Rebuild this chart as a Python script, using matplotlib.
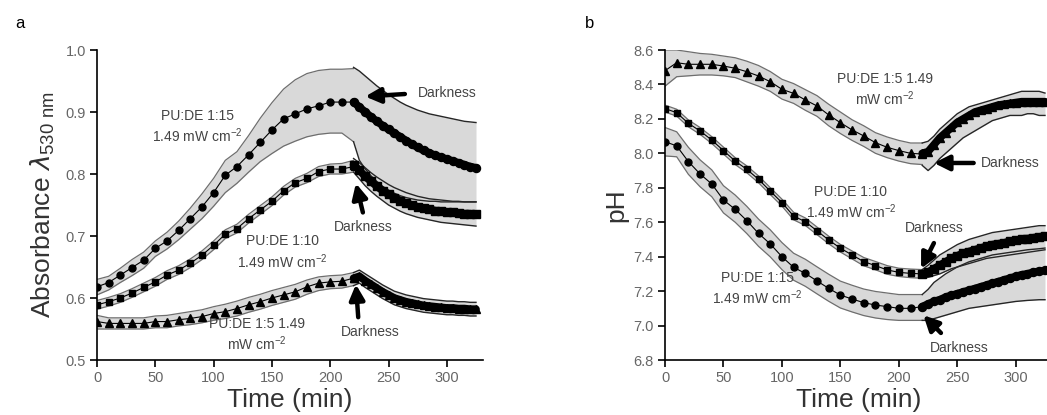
import matplotlib
matplotlib.use("Agg")
import matplotlib.pyplot as plt
import numpy as np

plt.rcParams['font.family'] = ['Liberation Sans', 'DejaVu Sans']

# ---------------- data ----------------
t_light = list(range(0, 221, 10))
t_dark = list(range(220, 326, 5))

# Panel a: absorbance at 530 nm
a15_mean = [0.618,0.625,0.637,0.649,0.661,0.680,0.692,0.709,0.728,0.747,0.770,0.798,0.812,0.831,0.851,0.871,0.889,0.897,0.905,0.910,0.916,0.916,0.916]
a15_up = [0.630,0.635,0.648,0.662,0.674,0.692,0.706,0.724,0.745,0.768,0.793,0.822,0.836,0.862,0.890,0.915,0.937,0.952,0.962,0.967,0.969,0.969,0.970]
a15_lo = [0.605,0.613,0.625,0.636,0.648,0.667,0.679,0.694,0.711,0.728,0.748,0.770,0.785,0.803,0.820,0.833,0.845,0.853,0.860,0.864,0.866,0.866,0.852]
a15_dmean = [0.916,0.908,0.900,0.892,0.885,0.878,0.872,0.866,0.860,0.854,0.848,0.843,0.838,0.834,0.830,0.827,0.824,0.821,0.818,0.815,0.812,0.810]
a15_dup = [0.972,0.966,0.958,0.950,0.942,0.935,0.928,0.922,0.916,0.911,0.907,0.903,0.900,0.897,0.895,0.893,0.891,0.889,0.887,0.885,0.884,0.883]
a15_dlo = [0.852,0.822,0.808,0.797,0.788,0.780,0.774,0.769,0.765,0.762,0.760,0.758,0.757,0.756,0.756,0.755,0.755,0.755,0.755,0.755,0.755,0.755]

a10_mean = [0.589,0.594,0.600,0.608,0.617,0.626,0.637,0.645,0.656,0.669,0.685,0.703,0.712,0.728,0.742,0.756,0.773,0.786,0.793,0.804,0.808,0.808,0.812]
a10_up = [0.596,0.601,0.607,0.615,0.624,0.633,0.644,0.652,0.663,0.676,0.692,0.710,0.719,0.735,0.749,0.763,0.780,0.793,0.801,0.812,0.816,0.817,0.822]
a10_lo = [0.582,0.587,0.593,0.601,0.610,0.619,0.630,0.638,0.649,0.662,0.678,0.696,0.705,0.721,0.735,0.749,0.766,0.779,0.786,0.796,0.800,0.800,0.803]
a10_dmean = [0.815,0.806,0.796,0.788,0.780,0.773,0.767,0.762,0.757,0.753,0.750,0.747,0.745,0.743,0.741,0.740,0.739,0.738,0.737,0.736,0.736,0.735]
a10_dup = [0.825,0.818,0.810,0.802,0.795,0.789,0.783,0.778,0.774,0.770,0.767,0.764,0.762,0.760,0.759,0.758,0.757,0.756,0.756,0.755,0.755,0.755]
a10_dlo = [0.803,0.792,0.781,0.772,0.764,0.757,0.750,0.745,0.740,0.736,0.733,0.730,0.728,0.726,0.724,0.722,0.721,0.720,0.719,0.718,0.717,0.716]

a5_mean = [0.562,0.559,0.559,0.559,0.559,0.562,0.562,0.565,0.567,0.570,0.575,0.578,0.583,0.589,0.594,0.600,0.605,0.610,0.618,0.624,0.626,0.627,0.632]
a5_up = [0.572,0.568,0.568,0.568,0.568,0.571,0.572,0.575,0.578,0.581,0.586,0.590,0.595,0.601,0.606,0.612,0.617,0.622,0.629,0.634,0.636,0.637,0.641]
a5_lo = [0.550,0.550,0.550,0.550,0.550,0.552,0.552,0.555,0.557,0.560,0.564,0.567,0.571,0.577,0.582,0.588,0.593,0.598,0.606,0.612,0.615,0.616,0.620]
a5_dmean = [0.632,0.635,0.628,0.622,0.616,0.610,0.605,0.600,0.597,0.594,0.592,0.590,0.588,0.587,0.586,0.585,0.584,0.584,0.583,0.583,0.582,0.582]
a5_dup = [0.641,0.645,0.639,0.633,0.627,0.621,0.616,0.611,0.608,0.605,0.603,0.601,0.599,0.598,0.597,0.596,0.595,0.595,0.594,0.594,0.593,0.593]
a5_dlo = [0.620,0.624,0.617,0.611,0.605,0.599,0.594,0.589,0.586,0.583,0.581,0.579,0.577,0.576,0.575,0.574,0.573,0.573,0.572,0.572,0.571,0.571]

# Panel b: pH
p5_mean = [8.480,8.526,8.517,8.517,8.517,8.507,8.494,8.474,8.449,8.416,8.372,8.348,8.310,8.275,8.223,8.178,8.136,8.101,8.062,8.035,8.016,8.000,7.996]
p5_up = [8.600,8.600,8.590,8.580,8.575,8.565,8.555,8.535,8.510,8.475,8.430,8.405,8.370,8.335,8.285,8.240,8.195,8.160,8.120,8.095,8.075,8.060,8.060]
p5_lo = [8.390,8.445,8.450,8.455,8.455,8.450,8.440,8.415,8.390,8.360,8.315,8.290,8.250,8.215,8.160,8.115,8.075,8.040,8.000,7.975,7.955,7.940,7.935]
p5_dmean = [8.00,8.01,8.05,8.09,8.12,8.15,8.18,8.20,8.22,8.24,8.25,8.26,8.27,8.28,8.285,8.29,8.295,8.30,8.30,8.30,8.30,8.30]
p5_dup = [8.06,8.07,8.10,8.14,8.17,8.20,8.23,8.25,8.27,8.28,8.29,8.30,8.31,8.32,8.33,8.34,8.35,8.36,8.36,8.36,8.36,8.35]
p5_dlo = [7.93,7.90,7.93,7.97,8.00,8.03,8.06,8.09,8.11,8.13,8.15,8.17,8.19,8.20,8.21,8.22,8.22,8.22,8.23,8.23,8.22,8.22]

p10_mean = [8.260,8.236,8.174,8.130,8.077,8.016,7.955,7.907,7.849,7.781,7.714,7.636,7.603,7.550,7.497,7.449,7.410,7.371,7.348,7.323,7.309,7.303,7.300]
p10_up = [8.280,8.256,8.194,8.150,8.097,8.036,7.975,7.927,7.869,7.801,7.734,7.658,7.625,7.572,7.519,7.471,7.433,7.395,7.372,7.348,7.333,7.328,7.325]
p10_lo = [8.240,8.216,8.154,8.110,8.057,7.996,7.935,7.887,7.829,7.761,7.694,7.614,7.581,7.528,7.475,7.427,7.387,7.347,7.324,7.298,7.285,7.278,7.275]
p10_dmean = [7.300,7.310,7.330,7.350,7.370,7.390,7.405,7.420,7.430,7.440,7.450,7.460,7.470,7.475,7.480,7.490,7.495,7.500,7.505,7.510,7.515,7.520]
p10_dup = [7.325,7.350,7.380,7.410,7.430,7.450,7.470,7.485,7.500,7.510,7.520,7.530,7.540,7.545,7.550,7.555,7.560,7.565,7.570,7.575,7.580,7.580]
p10_dlo = [7.275,7.280,7.290,7.300,7.315,7.330,7.340,7.350,7.360,7.370,7.380,7.390,7.395,7.400,7.405,7.410,7.415,7.420,7.425,7.430,7.435,7.440]

p15_mean = [8.068,8.043,7.952,7.880,7.822,7.729,7.675,7.609,7.535,7.474,7.400,7.338,7.303,7.259,7.216,7.177,7.154,7.133,7.119,7.110,7.100,7.100,7.110]
p15_up = [8.150,8.125,8.035,7.962,7.904,7.812,7.758,7.692,7.618,7.556,7.482,7.420,7.385,7.341,7.298,7.258,7.234,7.212,7.198,7.189,7.180,7.180,7.180]
p15_lo = [7.985,7.980,7.878,7.806,7.748,7.654,7.600,7.534,7.460,7.399,7.325,7.263,7.228,7.184,7.141,7.102,7.079,7.058,7.044,7.035,7.030,7.030,7.030]
p15_dmean = [7.110,7.125,7.140,7.150,7.165,7.175,7.185,7.195,7.205,7.215,7.225,7.235,7.245,7.255,7.265,7.275,7.285,7.295,7.300,7.310,7.315,7.320]
p15_dup = [7.180,7.210,7.250,7.275,7.300,7.320,7.340,7.355,7.370,7.380,7.390,7.400,7.410,7.415,7.420,7.425,7.430,7.435,7.440,7.443,7.446,7.450]
p15_dlo = [7.030,7.030,7.040,7.050,7.060,7.070,7.080,7.090,7.100,7.105,7.110,7.115,7.120,7.125,7.130,7.135,7.140,7.143,7.146,7.148,7.150,7.150]

# ---------------- drawing ----------------
W, H = 1047, 415
fig = plt.figure(figsize=(W / 100, H / 100), dpi=100)

FILL = '#d9d9d9'
EDGE = '#6e6e6e'
DEDGE = '#262626'
TXT = '#444444'
TICK = '#666666'


def draw_series(ax, mean, up, lo, dmean, dup, dlo, marker, ms):
    tl = np.array(t_light)
    td = np.array(t_dark)
    tt = np.concatenate([tl, td[1:]])
    uu = np.concatenate([up, dup[1:]])
    ll = np.concatenate([lo, dlo[1:]])
    ax.fill_between(tt, ll, uu, color=FILL, lw=0, zorder=1)
    ax.plot(tl, up, color=EDGE, lw=0.9, zorder=2)
    ax.plot(tl, lo, color=EDGE, lw=0.9, zorder=2)
    ax.plot(td, dup, color=DEDGE, lw=1.0, zorder=2)
    ax.plot(td, dlo, color=DEDGE, lw=1.0, zorder=2)
    ax.plot(tl, mean, color='black', lw=0.8, marker=marker, ms=ms,
            mfc='black', mec='black', zorder=3)
    ax.plot(td, dmean, color='black', lw=5.5, solid_capstyle='round', zorder=3)
    ax.plot(td, dmean, ls='none', marker=marker, ms=ms + 0.8, color='black', zorder=3)


def style_axes(ax, ylim, yticks, yfmt):
    ax.set_xlim(0, 331)
    ax.set_ylim(*ylim)
    ax.set_xticks([0, 50, 100, 150, 200, 250, 300])
    ax.set_yticks(yticks)
    ax.set_yticklabels([yfmt.format(v) for v in yticks])
    for s in ['top', 'right']:
        ax.spines[s].set_visible(False)
    for s in ['left', 'bottom']:
        ax.spines[s].set_linewidth(1.2)
        ax.spines[s].set_color('black')
    ax.tick_params(direction='out', length=5, width=1.2, color='black',
                   labelsize=10.5, labelcolor=TICK, pad=3)
    ax.set_xlabel('Time (min)', fontsize=19, color='#333333', labelpad=2)


def darkness(ax, text_xy, tail, head, ha='center'):
    ax.text(text_xy[0], text_xy[1], 'Darkness', fontsize=10, color=TXT,
            ha=ha, va='center', zorder=5)
    ax.annotate('', xy=head, xytext=tail,
                arrowprops=dict(arrowstyle='-|>,head_width=0.45,head_length=0.9',
                                color='black', lw=3.2, shrinkA=0, shrinkB=0),
                zorder=5)


def label(ax, x, y, s):
    ax.text(x, y, s, fontsize=10, color=TXT, ha='center', va='center',
            linespacing=1.25, zorder=5)


# Panel a
axa = fig.add_axes([97 / W, 1 - 360 / H, (483 - 97) / W, 310 / H])
draw_series(axa, a15_mean, a15_up, a15_lo, a15_dmean, a15_dup, a15_dlo, 'o', 5)
draw_series(axa, a10_mean, a10_up, a10_lo, a10_dmean, a10_dup, a10_dlo, 's', 4.5)
draw_series(axa, a5_mean, a5_up, a5_lo, a5_dmean, a5_dup, a5_dlo, '^', 5.5)
style_axes(axa, (0.5, 1.0), [0.5, 0.6, 0.7, 0.8, 0.9, 1.0], '{:.1f}')
axa.set_ylabel(r'Absorbance $\lambda_{\mathregular{530\ nm}}$', fontsize=19,
               color='#333333', labelpad=6)
label(axa, 86, 0.876, 'PU:DE 1:15\n1.49 mW cm$^{\\mathregular{-2}}$')
label(axa, 159, 0.673, 'PU:DE 1:10\n1.49 mW cm$^{\\mathregular{-2}}$')
label(axa, 137, 0.540, 'PU:DE 1:5 1.49\nmW cm$^{\\mathregular{-2}}$')
darkness(axa, (300, 0.931), (264, 0.929), (230, 0.925))
darkness(axa, (228, 0.714), (228, 0.738), (222, 0.785))
darkness(axa, (234, 0.545), (224, 0.569), (222, 0.622))
fig.text(15 / W, 1 - 23 / H, 'a', fontsize=12, color='black', va='center')

# Panel b
axb = fig.add_axes([665 / W, 1 - 360 / H, (1052 - 665) / W, 310 / H])
draw_series(axb, p5_mean, p5_up, p5_lo, p5_dmean, p5_dup, p5_dlo, '^', 5.5)
draw_series(axb, p10_mean, p10_up, p10_lo, p10_dmean, p10_dup, p10_dlo, 's', 4.5)
draw_series(axb, p15_mean, p15_up, p15_lo, p15_dmean, p15_dup, p15_dlo, 'o', 5)
style_axes(axb, (6.8, 8.6), [6.8, 7.0, 7.2, 7.4, 7.6, 7.8, 8.0, 8.2, 8.4, 8.6], '{:.1f}')
axb.set_ylabel('pH', fontsize=19, color='#333333', labelpad=4)
label(axb, 188, 8.368, 'PU:DE 1:5 1.49\nmW cm$^{\\mathregular{-2}}$')
label(axb, 159, 7.712, 'PU:DE 1:10\n1.49 mW cm$^{\\mathregular{-2}}$')
label(axb, 79, 7.212, 'PU:DE 1:15\n1.49 mW cm$^{\\mathregular{-2}}$')
darkness(axb, (270, 7.944), (264, 7.944), (230, 7.944), ha='left')
darkness(axb, (230, 7.566), (230, 7.479), (219, 7.33))
darkness(axb, (252, 6.870), (236, 6.957), (221, 7.06))
fig.text(585 / W, 1 - 23 / H, 'b', fontsize=12, color='black', va='center')

fig.savefig('out.png', dpi=100)
